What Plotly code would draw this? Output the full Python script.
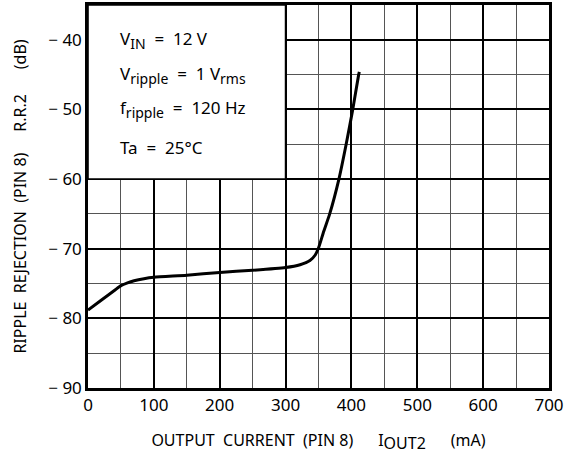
import plotly.graph_objects as go

current_ma = [0, 20, 40, 50, 60, 70, 85, 100, 150, 200, 250, 300, 322, 337, 345, 350,
              358, 367, 381, 392, 402, 411, 412]
rr_db = [-78.8, -77.4, -76.0, -75.3, -74.9, -74.6, -74.3, -74.1, -73.8, -73.4, -73.1,
         -72.7, -72.3, -71.7, -70.9, -69.9, -67.5, -65.0, -60.0, -55.0, -50.0, -45.0, -44.6]

x_ticks = [0, 100, 200, 300, 400, 500, 600, 700]
y_ticks = [-90, -80, -70, -60, -50, -40]
y_ticktext = ["\u2212 90", "\u2212 80", "\u2212 70", "\u2212 60", "\u2212 50", "\u2212 40"]

NB = "\u00a0"
SUB = '<sub><span style="font-size:14px">{}</span></sub>'
EQ = NB * 2 + "=" + NB * 2
cond_lines = ["V" + SUB.format("IN") + EQ + "12" + NB + "V",
              "V" + SUB.format("ripple") + EQ + "1" + NB + "V" + SUB.format("rms"),
              "f" + SUB.format("ripple") + EQ + "120" + NB + "Hz",
              "Ta" + EQ + "25\u00b0C"]
cond_y = [-40, -45, -50, -55.4]

x_title = ("OUTPUT" + NB * 2 + "CURRENT" + NB * 2 + "(PIN" + NB + "8)" + NB * 6 + "I"
           + '<sub><span style="font-size:16px">OUT2</span></sub>' + NB * 6 + "(mA)")
y_title = ("RIPPLE" + NB * 2 + "REJECTION" + NB * 2 + "(PIN" + NB + "8)" + NB * 5 + "R.R.2"
           + NB * 6 + "(dB)")

FONT = "Noto Sans"

fig = go.Figure()
fig.add_trace(go.Scatter(x=current_ma, y=rr_db, mode="lines",
                         line=dict(color="black", width=3, shape="spline", smoothing=0.6),
                         showlegend=False, hoverinfo="skip"))

fig.add_shape(type="rect", xref="x", yref="y", x0=0, x1=300, y0=-60, y1=-35,
              fillcolor="white", line=dict(color="black", width=1.6), layer="between")

for t, yv in zip(cond_lines, cond_y):
    fig.add_annotation(x=45, y=yv, xref="x", yref="y", text=t, showarrow=False,
                       xanchor="left", yanchor="middle",
                       font=dict(family=FONT, size=17, color="black"))

fig.update_xaxes(range=[0, 700], tickvals=x_ticks, ticktext=[str(v) for v in x_ticks],
                 showgrid=True, gridcolor="black", gridwidth=1.6,
                 minor=dict(dtick=50, tick0=0, showgrid=True, gridcolor="#555555", gridwidth=1.4),
                 showline=True, linecolor="black", linewidth=2.5, mirror=True,
                 ticks="", zeroline=False, automargin=False,
                 tickfont=dict(family=FONT, size=17, color="black"),
                 title=dict(text=x_title,
                            font=dict(family=FONT, size=16, color="black"), standoff=20))
fig.update_yaxes(range=[-90, -35], tickvals=y_ticks, ticktext=y_ticktext,
                 showgrid=True, gridcolor="black", gridwidth=1.6,
                 minor=dict(dtick=5, tick0=-90, showgrid=True, gridcolor="#555555", gridwidth=1.4),
                 showline=True, linecolor="black", linewidth=2.5, mirror=True,
                 ticks="", zeroline=False, automargin=False,
                 tickfont=dict(family=FONT, size=17, color="black"),
                 title=dict(text=y_title,
                            font=dict(family=FONT, size=16, color="black"), standoff=18))

fig.update_layout(width=564, height=456, margin=dict(l=88, r=15, t=5, b=68),
                  paper_bgcolor="white", plot_bgcolor="white",
                  font=dict(family=FONT, color="black"))

fig.write_html("out.html", config={"displayModeBar": False},
               post_script="document.body.style.margin='0';")
